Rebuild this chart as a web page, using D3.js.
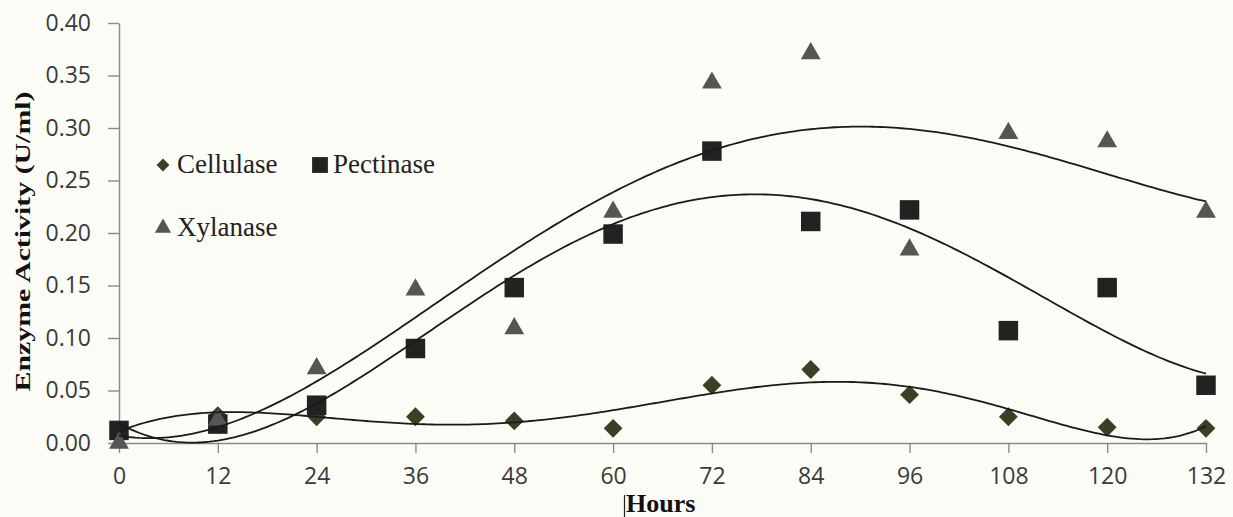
<!DOCTYPE html>
<html>
<head>
<meta charset="utf-8">
<script src="https://cdn.jsdelivr.net/npm/d3@7"></script>
<style>
  html, body { margin: 0; padding: 0; background: #fcfcf6; }
  svg { display: block; }
</style>
</head>
<body>
<div id="chart"></div>
<script>
// ---- Data ----
const hours = [0, 12, 24, 36, 48, 60, 72, 84, 96, 108, 120, 132];
const cellulase = [0.012, 0.026, 0.025, 0.025, 0.021, 0.014, 0.055, 0.070, 0.046, 0.025, 0.015, 0.014];
const pectinase = [0.012, 0.018, 0.036, 0.090, 0.148, 0.199, 0.278, 0.211, 0.222, 0.107, 0.148, 0.055];
const xylanase  = [0.000, 0.022, 0.071, 0.146, 0.109, 0.220, 0.343, 0.371, 0.184, 0.295, 0.287, 0.220];
const xTicks = [0, 12, 24, 36, 48, 60, 72, 84, 96, 108, 120, 132];
const yTicks = [0.00, 0.05, 0.10, 0.15, 0.20, 0.25, 0.30, 0.35, 0.40];
const seriesNames = ["Cellulase", "Pectinase", "Xylanase"];
const trendOrders = [6, 4, 4];

const W = 1233, H = 517;
const margin = { left: 119, right: 27, top: 23, bottom: 74 };

const svg = d3.select("#chart").append("svg")
  .attr("width", W).attr("height", H);

svg.append("rect").attr("width", W).attr("height", H).attr("fill", "#fcfcf6");

const x = d3.scaleLinear().domain([0, 132]).range([margin.left, W - margin.right]);
const y = d3.scaleLinear().domain([0, 0.40]).range([H - margin.bottom, margin.top]);

// ---- Least-squares polynomial trendline ----
function polyFit(xs, ys, order) {
  const s = 132;
  const n = order + 1;
  const A = Array.from({ length: n }, () => new Array(n + 1).fill(0));
  xs.forEach((xv, k) => {
    const t = xv / s;
    const pw = [];
    for (let i = 0; i < 2 * n; i++) pw.push(Math.pow(t, i));
    for (let i = 0; i < n; i++) {
      for (let j = 0; j < n; j++) A[i][j] += pw[i + j];
      A[i][n] += pw[i] * ys[k];
    }
  });
  for (let c = 0; c < n; c++) {
    let p = c;
    for (let r = c + 1; r < n; r++) if (Math.abs(A[r][c]) > Math.abs(A[p][c])) p = r;
    [A[c], A[p]] = [A[p], A[c]];
    for (let r = 0; r < n; r++) {
      if (r === c) continue;
      const f = A[r][c] / A[c][c];
      for (let k = c; k <= n; k++) A[r][k] -= f * A[c][k];
    }
  }
  const coef = A.map((row, i) => row[n] / row[i]);
  return xv => {
    const t = xv / s;
    let v = 0;
    for (let i = n - 1; i >= 0; i--) v = v * t + coef[i];
    return v;
  };
}

// ---- Axes ----
const axisColor = "#8a8a8a";
const textColor = "#3a3a3a";

const yAxis = svg.append("g")
  .attr("transform", `translate(${margin.left},0)`)
  .call(d3.axisLeft(y).tickValues(yTicks).tickFormat(d3.format(".2f"))
    .tickSize(11).tickSizeOuter(0).tickPadding(17));

const xAxis = svg.append("g")
  .attr("transform", `translate(0,${H - margin.bottom})`)
  .call(d3.axisBottom(x).tickValues(xTicks).tickFormat(d3.format("d"))
    .tickSize(10).tickSizeOuter(0).tickPadding(15));

[yAxis, xAxis].forEach(g => {
  g.select(".domain").attr("stroke", axisColor).attr("stroke-width", 1.4);
  g.selectAll(".tick line").attr("stroke", axisColor).attr("stroke-width", 1.4);
  g.selectAll(".tick text")
    .attr("fill", textColor)
    .style("font-family", "'Open Sans', 'Noto Sans', sans-serif")
    .style("font-size", "23px");
});

// ---- Markers ----
const markerStyles = [
  { sym: d3.symbolDiamond2, size: 225, fill: "#3b3f24" },
  { sym: d3.symbolSquare, size: 380, fill: "#222222" },
  { sym: d3.symbolTriangle, size: 170, fill: "#555555" }
];
const allSeries = [cellulase, pectinase, xylanase];

allSeries.forEach((vals, si) => {
  const st = markerStyles[si];
  const shape = d3.symbol().type(st.sym).size(st.size);
  svg.append("g").selectAll("path")
    .data(hours.map((h, i) => [h, vals[i]]))
    .join("path")
    .attr("d", shape)
    .attr("transform", d => `translate(${x(d[0])},${y(d[1])})`)
    .attr("fill", st.fill);
});

// ---- Trendlines ----
const line = d3.line().x(d => x(d[0])).y(d => y(d[1])).curve(d3.curveLinear);
allSeries.forEach((vals, si) => {
  const f = polyFit(hours, vals, trendOrders[si]);
  const pts = d3.range(0, 132.001, 0.5).map(h => [h, f(h)]);
  svg.append("path")
    .datum(pts)
    .attr("d", line)
    .attr("fill", "none")
    .attr("stroke", "#1a1a1a")
    .attr("stroke-width", 1.8);
});

// ---- Legend ----
const legendItems = [
  { name: seriesNames[0], mx: 163, my: 165, tx: 177, ty: 173, st: 0, size: 105 },
  { name: seriesNames[1], mx: 320, my: 165, tx: 333, ty: 173, st: 1, size: 250 },
  { name: seriesNames[2], mx: 163, my: 228, tx: 177, ty: 236, st: 2, size: 115 }
];
const leg = svg.append("g");
legendItems.forEach(it => {
  const st = markerStyles[it.st];
  leg.append("path")
    .attr("d", d3.symbol().type(st.sym).size(it.size)())
    .attr("transform", `translate(${it.mx},${it.my})`)
    .attr("fill", st.fill);
  leg.append("text")
    .attr("x", it.tx).attr("y", it.ty)
    .attr("fill", "#222")
    .style("font-family", "'Liberation Serif', 'Times New Roman', serif")
    .style("font-size", "27px")
    .text(it.name);
});

// ---- Axis titles ----
svg.append("text")
  .attr("transform", `translate(30,${(90 + 393) / 2}) rotate(-90)`)
  .attr("text-anchor", "middle")
  .attr("fill", "#111")
  .attr("textLength", 300)
  .attr("lengthAdjust", "spacingAndGlyphs")
  .style("font-family", "'Liberation Serif', 'Times New Roman', serif")
  .style("font-weight", "bold")
  .style("font-size", "21px")
  .text("Enzyme Activity (U/ml)");

svg.append("line")
  .attr("x1", 624.5).attr("x2", 624.5).attr("y1", 495).attr("y2", 517)
  .attr("stroke", "#222").attr("stroke-width", 1.2);

svg.append("text")
  .attr("x", 626).attr("y", 512)
  .attr("fill", "#111")
  .style("font-family", "'Liberation Serif', 'Times New Roman', serif")
  .style("font-weight", "bold")
  .style("font-size", "26px")
  .text("Hours");
</script>
</body>
</html>
